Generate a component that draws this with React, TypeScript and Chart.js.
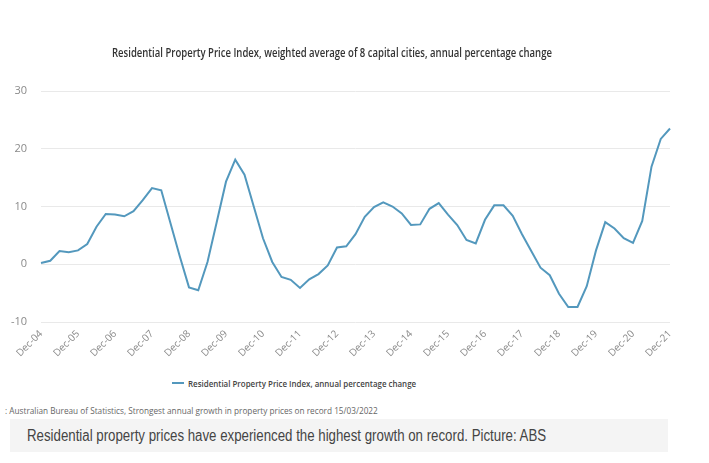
import React, { useEffect, useLayoutEffect, useRef, useState } from "react";
import { Chart, registerables } from "chart.js";

Chart.register(...registerables);

// ---- DATA ----
const years = ["04","05","06","07","08","09","10","11","12","13","14","15","16","17","18","19","20","21"];
const quarters = ["Mar", "Jun", "Sep", "Dec"];
// quarterly periods Dec-04 .. Dec-21
const periods: string[] = ["Dec-04"].concat(
  ...years.slice(1).map((y) => quarters.map((q) => `${q}-${y}`))
);
const tickLabels = years.map((y) => `Dec-${y}`);

const annualChange = [
  0.2, 0.6, 2.3, 2.1, 2.4, 3.5, 6.5, 8.7, 8.6, 8.3,
  9.2, 11.1, 13.2, 12.8, 7.1, 1.4, -4.0, -4.5, 0.4, 7.3,
  14.3, 18.1, 15.5, 10.0, 4.5, 0.4, -2.2, -2.7, -4.1, -2.6,
  -1.7, -0.2, 2.9, 3.1, 5.2, 8.2, 9.9, 10.7, 10.0, 8.8,
  6.8, 6.9, 9.6, 10.6, 8.6, 6.8, 4.2, 3.6, 7.7, 10.2,
  10.2, 8.4, 5.2, 2.3, -0.6, -1.9, -5.1, -7.4, -7.4, -3.8,
  2.4, 7.3, 6.2, 4.5, 3.7, 7.5, 16.9, 21.7, 23.5,
];
const yTicks = [-10, 0, 10, 20, 30];

const titleText = "Residential Property Price Index, weighted average of 8 capital cities, annual percentage change";
const seriesName = "Residential Property Price Index, annual percentage change";
const sourceText = ": Australian Bureau of Statistics, Strongest annual growth in property prices on record 15/03/2022";
const captionText = "Residential property prices have experienced the highest growth on record. Picture: ABS";

const LINE_COLOR = "#5398bd";

function FitText(props: {
  text: string; left: number; cy: number; width: number; size: number;
  weight?: number; color: string; family: string;
}) {
  const ref = useRef<HTMLSpanElement>(null);
  const [k, setK] = useState(1);
  useLayoutEffect(() => {
    if (ref.current) {
      const w = ref.current.offsetWidth;
      if (w > 0) setK(props.width / w);
    }
  }, [props.text, props.width, props.size]);
  const lh = Math.round(props.size * 1.4);
  return (
    <span
      ref={ref}
      style={{
        position: "absolute",
        left: props.left,
        top: props.cy - lh / 2,
        lineHeight: `${lh}px`,
        fontSize: props.size,
        fontWeight: props.weight ?? 400,
        color: props.color,
        fontFamily: props.family,
        whiteSpace: "nowrap",
        display: "inline-block",
        transformOrigin: "left center",
        transform: `scaleX(${k})`,
      }}
    >
      {props.text}
    </span>
  );
}

export default function App() {
  const canvasRef = useRef<HTMLCanvasElement>(null);

  useEffect(() => {
    document.body.style.margin = "0";
    const ctx = canvasRef.current!;
    const chart = new Chart(ctx, {
      type: "line",
      data: {
        labels: periods,
        datasets: [
          {
            label: seriesName,
            data: annualChange,
            borderColor: LINE_COLOR,
            backgroundColor: LINE_COLOR,
            borderWidth: 2,
            pointRadius: 0,
            tension: 0,
          },
        ],
      },
      options: {
        animation: false,
        responsive: false,
        layout: { padding: { left: 0, right: 39, top: 91, bottom: 0 } },
        plugins: {
          legend: { display: false },
          title: { display: false },
          tooltip: { enabled: false },
        },
        scales: {
          x: {
            type: "category",
            grid: { display: false, drawTicks: false },
            border: { display: false },
            afterFit: (s: any) => { s.height = 370 - 322; },
            ticks: {
              autoSkip: false,
              minRotation: 45,
              maxRotation: 45,
              padding: 6,
              color: "#8a8a8a",
              font: { family: "Open Sans", size: 10 },
              callback: (_v: any, i: number) =>
                tickLabels.includes(periods[i]) ? periods[i] : "",
            },
          },
          y: {
            min: -10,
            max: 30,
            afterFit: (s: any) => { s.width = 41; },
            afterBuildTicks: (s: any) => { s.ticks = yTicks.map((v) => ({ value: v })); },
            grid: { color: "#e9e9e9", lineWidth: 1, drawTicks: false },
            border: { display: false },
            ticks: {
              padding: 14,
              color: "#8a8a8a",
              font: { family: "Open Sans", size: 11 },
            },
          },
        },
      },
    });
    return () => chart.destroy();
  }, []);

  return (
    <div style={{ position: "fixed", left: 0, top: 0, width: 709, height: 463, background: "#fff", overflow: "hidden" }}>
      <canvas ref={canvasRef} width={709} height={370} style={{ position: "absolute", left: 0, top: 0, width: 709, height: 370 }} />
      <FitText text={titleText} left={112} cy={52} width={440} size={12} weight={600} color="#333" family="Open Sans" />
      <div style={{ position: "absolute", left: 172, top: 382, width: 12, height: 2, background: LINE_COLOR }} />
      <FitText text={seriesName} left={188} cy={383} width={228} size={9.5} weight={600} color="#444" family="Open Sans" />
      <FitText text={sourceText} left={5} cy={410} width={373} size={9.5} color="#666" family="Open Sans" />
      <div style={{ position: "absolute", left: 10, top: 419, width: 658, height: 33, background: "#f4f4f4" }} />
      <FitText text={captionText} left={27} cy={436} width={519} size={16} color="#444" family="'Liberation Sans', Arial, sans-serif" />
    </div>
  );
}
